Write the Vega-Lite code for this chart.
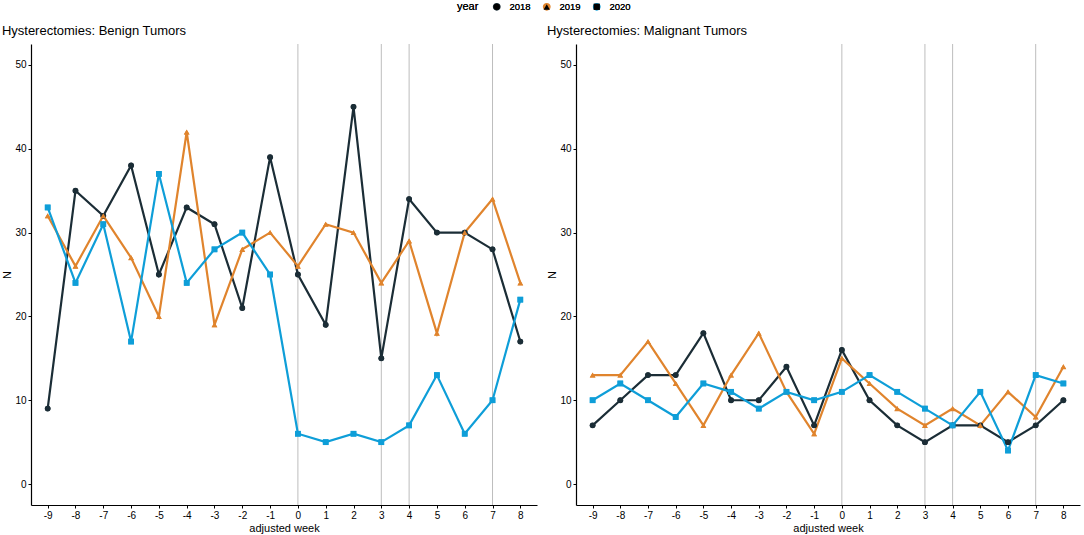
{
  "$schema": "https://vega.github.io/schema/vega-lite/v6.json",
  "padding": {"top": 2, "left": 1, "right": 2, "bottom": 1},
  "background": "white",
  "datasets": {
    "counts": [
      {"panel": "benign", "week": -9, "year": "2018", "n": 9},
      {"panel": "benign", "week": -8, "year": "2018", "n": 35},
      {"panel": "benign", "week": -7, "year": "2018", "n": 32},
      {"panel": "benign", "week": -6, "year": "2018", "n": 38},
      {"panel": "benign", "week": -5, "year": "2018", "n": 25},
      {"panel": "benign", "week": -4, "year": "2018", "n": 33},
      {"panel": "benign", "week": -3, "year": "2018", "n": 31},
      {"panel": "benign", "week": -2, "year": "2018", "n": 21},
      {"panel": "benign", "week": -1, "year": "2018", "n": 39},
      {"panel": "benign", "week": 0, "year": "2018", "n": 25},
      {"panel": "benign", "week": 1, "year": "2018", "n": 19},
      {"panel": "benign", "week": 2, "year": "2018", "n": 45},
      {"panel": "benign", "week": 3, "year": "2018", "n": 15},
      {"panel": "benign", "week": 4, "year": "2018", "n": 34},
      {"panel": "benign", "week": 5, "year": "2018", "n": 30},
      {"panel": "benign", "week": 6, "year": "2018", "n": 30},
      {"panel": "benign", "week": 7, "year": "2018", "n": 28},
      {"panel": "benign", "week": 8, "year": "2018", "n": 17},
      {"panel": "benign", "week": -9, "year": "2019", "n": 32},
      {"panel": "benign", "week": -8, "year": "2019", "n": 26},
      {"panel": "benign", "week": -7, "year": "2019", "n": 32},
      {"panel": "benign", "week": -6, "year": "2019", "n": 27},
      {"panel": "benign", "week": -5, "year": "2019", "n": 20},
      {"panel": "benign", "week": -4, "year": "2019", "n": 42},
      {"panel": "benign", "week": -3, "year": "2019", "n": 19},
      {"panel": "benign", "week": -2, "year": "2019", "n": 28},
      {"panel": "benign", "week": -1, "year": "2019", "n": 30},
      {"panel": "benign", "week": 0, "year": "2019", "n": 26},
      {"panel": "benign", "week": 1, "year": "2019", "n": 31},
      {"panel": "benign", "week": 2, "year": "2019", "n": 30},
      {"panel": "benign", "week": 3, "year": "2019", "n": 24},
      {"panel": "benign", "week": 4, "year": "2019", "n": 29},
      {"panel": "benign", "week": 5, "year": "2019", "n": 18},
      {"panel": "benign", "week": 6, "year": "2019", "n": 30},
      {"panel": "benign", "week": 7, "year": "2019", "n": 34},
      {"panel": "benign", "week": 8, "year": "2019", "n": 24},
      {"panel": "benign", "week": -9, "year": "2020", "n": 33},
      {"panel": "benign", "week": -8, "year": "2020", "n": 24},
      {"panel": "benign", "week": -7, "year": "2020", "n": 31},
      {"panel": "benign", "week": -6, "year": "2020", "n": 17},
      {"panel": "benign", "week": -5, "year": "2020", "n": 37},
      {"panel": "benign", "week": -4, "year": "2020", "n": 24},
      {"panel": "benign", "week": -3, "year": "2020", "n": 28},
      {"panel": "benign", "week": -2, "year": "2020", "n": 30},
      {"panel": "benign", "week": -1, "year": "2020", "n": 25},
      {"panel": "benign", "week": 0, "year": "2020", "n": 6},
      {"panel": "benign", "week": 1, "year": "2020", "n": 5},
      {"panel": "benign", "week": 2, "year": "2020", "n": 6},
      {"panel": "benign", "week": 3, "year": "2020", "n": 5},
      {"panel": "benign", "week": 4, "year": "2020", "n": 7},
      {"panel": "benign", "week": 5, "year": "2020", "n": 13},
      {"panel": "benign", "week": 6, "year": "2020", "n": 6},
      {"panel": "benign", "week": 7, "year": "2020", "n": 10},
      {"panel": "benign", "week": 8, "year": "2020", "n": 22},
      {"panel": "malignant", "week": -9, "year": "2018", "n": 7},
      {"panel": "malignant", "week": -8, "year": "2018", "n": 10},
      {"panel": "malignant", "week": -7, "year": "2018", "n": 13},
      {"panel": "malignant", "week": -6, "year": "2018", "n": 13},
      {"panel": "malignant", "week": -5, "year": "2018", "n": 18},
      {"panel": "malignant", "week": -4, "year": "2018", "n": 10},
      {"panel": "malignant", "week": -3, "year": "2018", "n": 10},
      {"panel": "malignant", "week": -2, "year": "2018", "n": 14},
      {"panel": "malignant", "week": -1, "year": "2018", "n": 7},
      {"panel": "malignant", "week": 0, "year": "2018", "n": 16},
      {"panel": "malignant", "week": 1, "year": "2018", "n": 10},
      {"panel": "malignant", "week": 2, "year": "2018", "n": 7},
      {"panel": "malignant", "week": 3, "year": "2018", "n": 5},
      {"panel": "malignant", "week": 4, "year": "2018", "n": 7},
      {"panel": "malignant", "week": 5, "year": "2018", "n": 7},
      {"panel": "malignant", "week": 6, "year": "2018", "n": 5},
      {"panel": "malignant", "week": 7, "year": "2018", "n": 7},
      {"panel": "malignant", "week": 8, "year": "2018", "n": 10},
      {"panel": "malignant", "week": -9, "year": "2019", "n": 13},
      {"panel": "malignant", "week": -8, "year": "2019", "n": 13},
      {"panel": "malignant", "week": -7, "year": "2019", "n": 17},
      {"panel": "malignant", "week": -6, "year": "2019", "n": 12},
      {"panel": "malignant", "week": -5, "year": "2019", "n": 7},
      {"panel": "malignant", "week": -4, "year": "2019", "n": 13},
      {"panel": "malignant", "week": -3, "year": "2019", "n": 18},
      {"panel": "malignant", "week": -2, "year": "2019", "n": 11},
      {"panel": "malignant", "week": -1, "year": "2019", "n": 6},
      {"panel": "malignant", "week": 0, "year": "2019", "n": 15},
      {"panel": "malignant", "week": 1, "year": "2019", "n": 12},
      {"panel": "malignant", "week": 2, "year": "2019", "n": 9},
      {"panel": "malignant", "week": 3, "year": "2019", "n": 7},
      {"panel": "malignant", "week": 4, "year": "2019", "n": 9},
      {"panel": "malignant", "week": 5, "year": "2019", "n": 7},
      {"panel": "malignant", "week": 6, "year": "2019", "n": 11},
      {"panel": "malignant", "week": 7, "year": "2019", "n": 8},
      {"panel": "malignant", "week": 8, "year": "2019", "n": 14},
      {"panel": "malignant", "week": -9, "year": "2020", "n": 10},
      {"panel": "malignant", "week": -8, "year": "2020", "n": 12},
      {"panel": "malignant", "week": -7, "year": "2020", "n": 10},
      {"panel": "malignant", "week": -6, "year": "2020", "n": 8},
      {"panel": "malignant", "week": -5, "year": "2020", "n": 12},
      {"panel": "malignant", "week": -4, "year": "2020", "n": 11},
      {"panel": "malignant", "week": -3, "year": "2020", "n": 9},
      {"panel": "malignant", "week": -2, "year": "2020", "n": 11},
      {"panel": "malignant", "week": -1, "year": "2020", "n": 10},
      {"panel": "malignant", "week": 0, "year": "2020", "n": 11},
      {"panel": "malignant", "week": 1, "year": "2020", "n": 13},
      {"panel": "malignant", "week": 2, "year": "2020", "n": 11},
      {"panel": "malignant", "week": 3, "year": "2020", "n": 9},
      {"panel": "malignant", "week": 4, "year": "2020", "n": 7},
      {"panel": "malignant", "week": 5, "year": "2020", "n": 11},
      {"panel": "malignant", "week": 6, "year": "2020", "n": 4},
      {"panel": "malignant", "week": 7, "year": "2020", "n": 13},
      {"panel": "malignant", "week": 8, "year": "2020", "n": 12}
    ],
    "markers": [
      {"week": 0},
      {"week": 3},
      {"week": 4},
      {"week": 7}
    ]
  },
  "spacing": 9,
  "hconcat": [
    {
      "title": "Hysterectomies: Benign Tumors",
      "width": 506,
      "height": 461,
      "encoding": {
        "x": {"field": "week", "type": "quantitative", "scale": {"domain": [-9.6, 8.6], "nice": false, "zero": false},
          "axis": {"title": "adjusted week", "values": [-9, -8, -7, -6, -5, -4, -3, -2, -1, 0, 1, 2, 3, 4, 5, 6, 7, 8], "labelOverlap": false, "labelExpr": "'' + datum.value"}}
      },
      "layer": [
        {
          "data": {"name": "markers"},
          "mark": {"type": "rule", "color": "#bdbdbd", "strokeWidth": 1}
        },
        {
          "data": {"name": "counts"},
          "transform": [{"filter": "datum.panel === 'benign'"}],
          "layer": [
            {"mark": {"type": "line", "strokeWidth": 2.2}},
            {"mark": {"type": "point", "filled": true, "size": 34, "opacity": 1}}
          ],
          "encoding": {
            "y": {"field": "n", "type": "quantitative", "scale": {"domain": [-2.5, 52.5], "nice": false, "zero": false},
              "axis": {"title": "N", "values": [0, 10, 20, 30, 40, 50]}},
            "color": {"field": "year", "type": "nominal", "title": "year",
              "legend": {"titleFontWeight": "normal", "titleFontSize": 11, "labelFontSize": 9.5, "labelFontWeight": "normal", "titleColor": "black", "labelColor": "black"}},
            "shape": {"field": "year", "type": "nominal", "title": "year",
              "legend": {"titleFontWeight": "normal", "titleFontSize": 11, "labelFontSize": 9.5, "labelFontWeight": "normal", "titleColor": "black", "labelColor": "black"}}
          }
        }
      ]
    },
    {
      "title": "Hysterectomies: Malignant Tumors",
      "width": 504,
      "height": 461,
      "encoding": {
        "x": {"field": "week", "type": "quantitative", "scale": {"domain": [-9.6, 8.6], "nice": false, "zero": false},
          "axis": {"title": "adjusted week", "values": [-9, -8, -7, -6, -5, -4, -3, -2, -1, 0, 1, 2, 3, 4, 5, 6, 7, 8], "labelOverlap": false, "labelExpr": "'' + datum.value"}}
      },
      "layer": [
        {
          "data": {"name": "markers"},
          "mark": {"type": "rule", "color": "#bdbdbd", "strokeWidth": 1}
        },
        {
          "data": {"name": "counts"},
          "transform": [{"filter": "datum.panel === 'malignant'"}],
          "layer": [
            {"mark": {"type": "line", "strokeWidth": 2.2}},
            {"mark": {"type": "point", "filled": true, "size": 34, "opacity": 1}}
          ],
          "encoding": {
            "y": {"field": "n", "type": "quantitative", "scale": {"domain": [-2.5, 52.5], "nice": false, "zero": false},
              "axis": {"title": "N", "values": [0, 10, 20, 30, 40, 50]}},
            "color": {"field": "year", "type": "nominal", "title": "year"},
            "shape": {"field": "year", "type": "nominal", "title": "year"}
          }
        }
      ]
    }
  ],
  "resolve": {
    "scale": {"color": "shared", "shape": "shared"},
    "legend": {"color": "shared", "shape": "shared"}
  },
  "config": {
    "font": "Liberation Sans",
    "view": {"stroke": null},
    "title": {"anchor": "start", "fontSize": 13, "fontWeight": "normal", "color": "black", "offset": 6},
    "range": {
      "category": ["#1b2d36", "#e0842d", "#0e9ed8"],
      "symbol": ["circle", "triangle-up", "square"]
    },
    "axis": {
      "grid": false,
      "labelOverlap": false,
      "domainColor": "black",
      "domainWidth": 1.2,
      "tickColor": "black",
      "tickSize": 3,
      "labelColor": "black",
      "labelFontSize": 10,
      "labelPadding": 2,
      "titleFontSize": 11,
      "titleFontWeight": "normal",
      "titleColor": "black",
      "titlePadding": 2
    },
    "legend": {
      "orient": "none",
      "legendX": 426,
      "legendY": -42,
      "direction": "horizontal",
      "titleOrient": "left",
      "titlePadding": 13,
      "labelOffset": 8,
      "symbolSize": 40,
      "columnPadding": 9
    }
  }
}
